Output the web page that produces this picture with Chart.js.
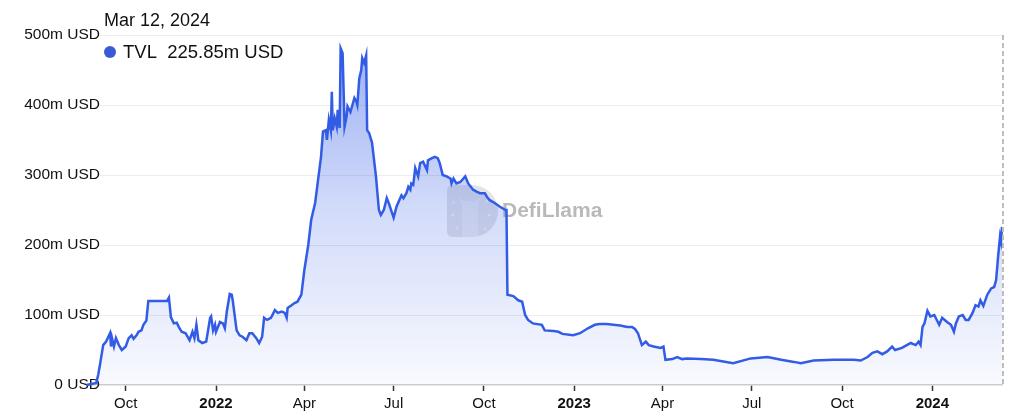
<!DOCTYPE html>
<html>
<head>
<meta charset="utf-8">
<script src="https://cdn.jsdelivr.net/npm/chart.js@4/dist/chart.umd.min.js"></script>
<style>
  html, body { margin: 0; padding: 0; background: #fff; }
  #wrap { position: relative; width: 1024px; height: 420px; font-family: "Liberation Sans", Arial, Helvetica, sans-serif; }
  canvas { position: absolute; left: 0; top: 0; }
  #date { position: absolute; left: 104px; top: 10px; font-size: 18px; color: #111; white-space: nowrap; }
  #val { position: absolute; left: 104px; top: 41px; font-size: 18.5px; color: #111; white-space: nowrap; display: flex; align-items: center; }
  #val .dot { display: inline-block; width: 12px; height: 12px; border-radius: 50%; background: #3a5ad8; margin-right: 7px; }
</style>
</head>
<body>
<div id="wrap">
  <canvas id="c" width="1024" height="420"></canvas>
  <div id="date"></div>
  <div id="val"><span class="dot"></span><span id="valtxt"></span></div>
</div>
<script>
// ---- data (TVL in millions of USD) ----
const dates = [
  '2021-08-22','2021-09-01','2021-09-03','2021-09-05','2021-09-08','2021-09-11','2021-09-15','2021-09-16','2021-09-17','2021-09-19',
  '2021-09-21','2021-09-24','2021-09-27','2021-10-01','2021-10-04','2021-10-07','2021-10-09','2021-10-12','2021-10-14','2021-10-17',
  '2021-10-19','2021-10-21','2021-10-22','2021-10-24','2021-11-12','2021-11-14','2021-11-16','2021-11-19','2021-11-22','2021-11-24',
  '2021-11-27','2021-12-01','2021-12-05','2021-12-08','2021-12-10','2021-12-12','2021-12-14','2021-12-18','2021-12-22','2021-12-26',
  '2021-12-27','2021-12-29','2021-12-31','2022-01-01','2022-01-05','2022-01-08','2022-01-10','2022-01-12','2022-01-15','2022-01-17',
  '2022-01-18','2022-01-22','2022-01-25','2022-01-28','2022-02-01','2022-02-04','2022-02-07','2022-02-11','2022-02-14','2022-02-17',
  '2022-02-19','2022-02-22','2022-02-26','2022-03-02','2022-03-05','2022-03-09','2022-03-12','2022-03-14','2022-03-15','2022-03-19',
  '2022-03-22','2022-03-25','2022-03-29','2022-04-01','2022-04-05','2022-04-08','2022-04-12','2022-04-15','2022-04-18','2022-04-20',
  '2022-04-23','2022-04-24','2022-04-26','2022-04-28','2022-04-29','2022-04-30','2022-05-02','2022-05-04','2022-05-05','2022-05-07',
  '2022-05-08','2022-05-10','2022-05-12','2022-05-14','2022-05-15','2022-05-18','2022-05-20','2022-05-22','2022-05-24','2022-05-25',
  '2022-05-27','2022-05-29','2022-05-30','2022-06-01','2022-06-03','2022-06-04','2022-06-06','2022-06-09','2022-06-13','2022-06-16',
  '2022-06-18','2022-06-21','2022-06-24','2022-06-26','2022-07-01','2022-07-04','2022-07-09','2022-07-11','2022-07-14','2022-07-16',
  '2022-07-18','2022-07-19','2022-07-21','2022-07-23','2022-07-26','2022-07-28','2022-07-31','2022-08-04','2022-08-05','2022-08-09',
  '2022-08-12','2022-08-15','2022-08-17','2022-08-20','2022-08-24','2022-08-28','2022-08-29','2022-08-31','2022-09-03','2022-09-07',
  '2022-09-12','2022-09-15','2022-09-20','2022-09-24','2022-09-27','2022-10-02','2022-10-04','2022-10-07','2022-10-12','2022-10-17',
  '2022-10-23','2022-10-24','2022-10-25','2022-10-31','2022-11-05','2022-11-09','2022-11-12','2022-11-15','2022-11-20','2022-11-29',
  '2022-12-02','2022-12-11','2022-12-16','2022-12-20','2022-12-31','2023-01-07','2023-01-15','2023-01-22','2023-01-27','2023-02-03',
  '2023-02-10','2023-02-17','2023-02-24','2023-03-01','2023-03-04','2023-03-07','2023-03-11','2023-03-15','2023-03-18','2023-03-23',
  '2023-03-30','2023-04-02','2023-04-04','2023-04-11','2023-04-16','2023-04-21','2023-04-26','2023-05-10','2023-05-23','2023-06-12',
  '2023-06-30','2023-07-17','2023-07-31','2023-08-13','2023-08-20','2023-09-02','2023-09-23','2023-10-13','2023-10-20','2023-10-27',
  '2023-11-01','2023-11-06','2023-11-11','2023-11-16','2023-11-21','2023-11-24','2023-12-01','2023-12-06','2023-12-10','2023-12-15',
  '2023-12-18','2023-12-20','2023-12-22','2023-12-24','2023-12-27','2023-12-30','2024-01-03','2024-01-08','2024-01-11','2024-01-16',
  '2024-01-20','2024-01-23','2024-01-25','2024-01-28','2024-02-01','2024-02-04','2024-02-07','2024-02-11','2024-02-14','2024-02-17',
  '2024-02-19','2024-02-22','2024-02-26','2024-03-01','2024-03-04','2024-03-06','2024-03-08','2024-03-10','2024-03-11','2024-03-12'
];
const tvl = [
  0, 3, 15, 31, 57, 62, 74, 55, 67, 55,
  67, 57, 50, 55, 67, 71, 66, 71, 76, 78,
  86, 90, 92, 120, 120, 125, 97, 88, 89, 83,
  76, 74, 64, 76, 67, 86, 64, 60, 62, 96,
  98, 78, 86, 76, 90, 88, 81, 105, 130, 129,
  121, 78, 71, 69, 64, 74, 74, 67, 60, 69,
  96, 93, 96, 107, 103, 105, 103, 96, 110, 114,
  117, 119, 129, 164, 200, 236, 260, 293, 326, 362,
  364, 350, 379, 364, 419, 364, 381, 369, 393, 367,
  481, 474, 369, 383, 398, 390, 400, 410, 405, 400,
  438, 450, 467, 460, 471, 364, 360, 346, 298, 250,
  243, 250, 267, 260, 239, 255, 271, 267, 274, 283,
  279, 288, 286, 310, 298, 317, 319, 307, 321, 324,
  326, 324, 317, 300, 298, 295, 288, 295, 288, 290,
  298, 288, 279, 276, 274, 274, 269, 264, 260, 255,
  250, 250, 129, 127, 121, 119, 100, 93, 88, 86,
  78, 77, 76, 73, 71, 74, 81, 86, 87, 87,
  86, 85, 83, 83, 80, 74, 57, 62, 57, 55,
  53, 55, 36, 37, 40, 37, 38, 37, 36, 31,
  38, 40, 36, 33, 31, 35, 36, 36, 35, 40,
  46, 48, 44, 48, 55, 50, 53, 57, 60, 57,
  62, 57, 83, 88, 106, 98, 100, 86, 96, 90,
  86, 76, 88, 98, 100, 93, 93, 103, 114, 112,
  121, 113, 129, 138, 140, 150, 183, 212, 205, 225.85
];
const tickDates = ['2021-10-01','2022-01-01','2022-04-01','2022-07-01','2022-10-01','2023-01-01','2023-04-01','2023-07-01','2023-10-01','2024-01-01'];
const tickLabels = ['Oct','2022','Apr','Jul','Oct','2023','Apr','Jul','Oct','2024'];
const yTicks = [0, 100, 200, 300, 400, 500];
const yTickLabels = ['0 USD', '100m USD', '200m USD', '300m USD', '400m USD', '500m USD'];
const seriesName = 'TVL';
const legendDate = 'Mar 12, 2024';

// ---- build ----
const points = dates.map((d, i) => ({ x: Date.parse(d), y: tvl[i] }));
const tickVals = tickDates.map(d => Date.parse(d));
const firstPt = points[0];
const lastPt = points[points.length - 1];

document.getElementById('date').textContent = legendDate;
document.getElementById('valtxt').textContent = seriesName + '\u00a0\u00a0' + lastPt.y.toFixed(2) + 'm USD';

const LINE = 'rgb(50, 92, 230)';
const FONT = '"Liberation Sans", Arial, Helvetica, sans-serif';
const GRID_LEFT = 100;

const overlay = {
  id: 'overlay',
  beforeDatasetsDraw(chart) {
    const ctx = chart.ctx;
    const a = chart.chartArea;
    const ys = chart.scales.y;
    // horizontal grid lines (start right of the labels)
    ctx.save();
    ctx.strokeStyle = '#ececec';
    ctx.lineWidth = 1;
    yTicks.forEach(v => {
      if (v === 0) return;
      const py = Math.round(ys.getPixelForValue(v)) + 0.5;
      ctx.beginPath(); ctx.moveTo(GRID_LEFT, py); ctx.lineTo(a.right, py); ctx.stroke();
    });
    // y tick labels, right-aligned at the grid start
    ctx.font = '15.5px ' + FONT;
    ctx.fillStyle = '#111';
    ctx.textAlign = 'right';
    ctx.textBaseline = 'middle';
    yTicks.forEach((v, i) => ctx.fillText(yTickLabels[i], GRID_LEFT, ys.getPixelForValue(v)));
    ctx.restore();
    // watermark logo
    ctx.save();
    const lx = 447, ly = 185, lw = 47, lh = 52;
    ctx.fillStyle = 'rgba(90, 90, 100, 0.16)';
    ctx.beginPath();
    ctx.moveTo(lx + 6, ly);
    ctx.lineTo(lx + lw - lh / 2 + 4, ly);
    ctx.arc(lx + lw - lh / 2 + 4, ly + lh / 2, lh / 2, -Math.PI / 2, Math.PI / 2);
    ctx.lineTo(lx + 6, ly + lh);
    ctx.quadraticCurveTo(lx, ly + lh, lx, ly + lh - 6);
    ctx.lineTo(lx, ly + 6);
    ctx.quadraticCurveTo(lx, ly, lx + 6, ly);
    ctx.fill();
    // llama silhouette
    ctx.fillStyle = 'rgba(255,255,255,0.3)';
    ctx.beginPath();
    ctx.moveTo(lx + 15, ly + 52); ctx.lineTo(lx + 15, ly + 20); ctx.lineTo(lx + 12, ly + 12);
    ctx.lineTo(lx + 17, ly + 16); ctx.lineTo(lx + 29, ly + 16); ctx.lineTo(lx + 34, ly + 12);
    ctx.lineTo(lx + 31, ly + 20); ctx.lineTo(lx + 31, ly + 52); ctx.closePath();
    ctx.fill();
    ctx.lineWidth = 2;
    ctx.strokeStyle = 'rgba(255,255,255,0.6)';
    [[lx + 5, ly + 18, lx + 8, ly + 17], [lx + 4, ly + 30, lx + 7, ly + 30], [lx + 9, ly + 42, lx + 11, ly + 44],
     [lx + 39, ly + 17, lx + 41, ly + 15], [lx + 41, ly + 30, lx + 44, ly + 30], [lx + 37, ly + 43, lx + 39, ly + 45]].forEach(s => {
      ctx.beginPath(); ctx.moveTo(s[0], s[1]); ctx.lineTo(s[2], s[3]); ctx.stroke();
    });
    ctx.font = 'bold 21px ' + FONT;
    ctx.fillStyle = 'rgba(70, 70, 80, 0.38)';
    ctx.textBaseline = 'middle';
    ctx.textAlign = 'left';
    ctx.fillText('DefiLlama', 502, 211);
    ctx.restore();
  },
  afterDatasetsDraw(chart) {
    const ctx = chart.ctx;
    const xs = chart.scales.x;
    const a = chart.chartArea;
    const px = Math.round(xs.getPixelForValue(lastPt.x)) + 1;
    ctx.save();
    ctx.strokeStyle = '#bdbdbd';
    ctx.lineWidth = 2;
    ctx.setLineDash([5, 3]);
    ctx.beginPath();
    ctx.moveTo(px, a.top);
    ctx.lineTo(px, a.bottom);
    ctx.stroke();
    ctx.restore();
  }
};

new Chart(document.getElementById('c'), {
  type: 'line',
  data: {
    datasets: [{
      label: seriesName,
      data: points,
      borderColor: LINE,
      borderWidth: 2.5,
      pointRadius: 0,
      tension: 0,
      clip: false,
      fill: 'origin',
      backgroundColor(ctx) {
        const a = ctx.chart.chartArea;
        if (!a) return 'rgba(50,92,230,0.2)';
        const g = ctx.chart.ctx.createLinearGradient(0, a.top, 0, a.bottom);
        g.addColorStop(0, 'rgba(50, 92, 230, 0.50)');
        g.addColorStop(0.5, 'rgba(50, 92, 230, 0.22)');
        g.addColorStop(1, 'rgba(50, 92, 230, 0.03)');
        return g;
      }
    }]
  },
  options: {
    responsive: false,
    animation: false,
    layout: { padding: { left: 0, right: 22, top: 35, bottom: 0 } },
    plugins: { legend: { display: false }, tooltip: { enabled: false } },
    scales: {
      x: {
        type: 'linear',
        min: firstPt.x,
        max: lastPt.x,
        afterBuildTicks(s) { s.ticks = tickVals.map(v => ({ value: v })); },
        afterFit(s) { s.height = 35; },
        ticks: {
          autoSkip: false,
          maxRotation: 0,
          padding: 4,
          color: '#111',
          font(ctx) {
            const lbl = tickLabels[tickVals.indexOf(ctx.tick && ctx.tick.value)];
            return { family: FONT, size: 15, weight: /^\d+$/.test(lbl || '') ? 'bold' : 'normal' };
          },
          callback(v) { const i = tickVals.indexOf(v); return i >= 0 ? tickLabels[i] : ''; }
        },
        grid: { drawOnChartArea: false, drawTicks: true, tickLength: 6, tickColor: '#333', tickWidth: 1.5 },
        border: { color: '#cfcfcf', width: 1.5 }
      },
      y: {
        min: 0,
        max: 500,
        afterBuildTicks(s) { s.ticks = yTicks.map(v => ({ value: v })); },
        afterFit(s) { s.width = 86.5; },
        ticks: { display: false },
        grid: { display: false, drawTicks: false },
        border: { display: false }
      }
    }
  },
  plugins: [overlay]
});
</script>
</body>
</html>
